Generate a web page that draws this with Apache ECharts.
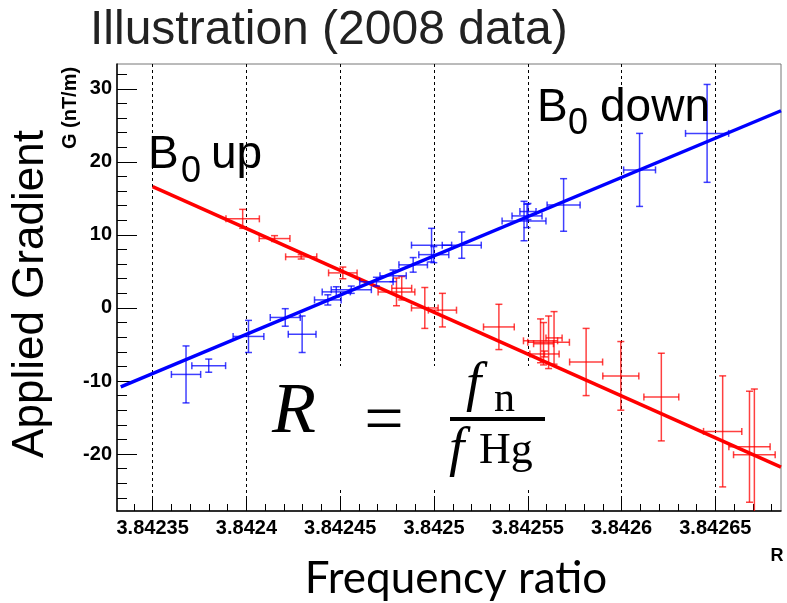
<!DOCTYPE html>
<html>
<head>
<meta charset="utf-8">
<script src="https://cdn.jsdelivr.net/npm/echarts@6/dist/echarts.min.js"></script>
<style>
	html, body { margin: 0; padding: 0; background: #fff; }
	#main { width: 787px; height: 603px; }
</style>
</head>
<body>
<div id="main"></div>
<script>
	// axis ranges
	var xMin = 3.842331, xMax = 3.842685;
	var yMin = -27.8, yMax = 33.4;

	var xMajor = [3.84235, 3.8424, 3.84245, 3.8425, 3.84255, 3.8426, 3.84265];
	var xTickLabels = ['3.84235', '3.8424', '3.84245', '3.8425', '3.84255', '3.8426', '3.84265'];
	var yMajor = [-20, -10, 0, 10, 20, 30];
	var yTickLabels = ['-20', '-10', '0', '10', '20', '30'];

	// B0 down (blue)
	var blueR = [3.8423678, 3.8423799, 3.8424011, 3.8424207, 3.8424297, 3.8424434, 3.8424479, 3.8424559, 3.8424693, 3.8424782,
		3.8424889, 3.8424987, 3.8424999, 3.8425148, 3.8425480, 3.8425496, 3.8425501, 3.8425691, 3.8426096, 3.8426456];
	var blueG = [-9.1, -7.9, -3.9, -1.3, -3.6, 1.1, 2.2, 2.5, 3.6, 4.4,
		5.9, 8.6, 7.3, 8.6, 11.9, 12.6, 13.2, 14.1, 18.9, 23.9];
	var blueRErr = [0.0000078, 0.0000090, 0.0000082, 0.0000080, 0.0000074, 0.0000071, 0.0000075, 0.0000107, 0.0000089, 0.0000070,
		0.0000076, 0.0000107, 0.0000080, 0.0000104, 0.0000117, 0.0000080, 0.0000043, 0.0000088, 0.0000085, 0.0000115];
	var blueGErr = [3.9, 0.9, 2.2, 1.2, 2.5, 0.7, 0.7, 0.5, 0.6, 0.8,
		1.0, 2.3, 1.1, 1.8, 2.7, 1.6, 1.1, 3.6, 5.0, 6.7];

	// B0 up (red)
	var redR = [3.8423980, 3.8424150, 3.8424292, 3.8424514, 3.8424800, 3.8424828, 3.8424951, 3.8425045, 3.8425346, 3.8425568,
		3.8425584, 3.8425611, 3.8425640, 3.8425589, 3.8425811, 3.8425996, 3.8426212, 3.8426539, 3.8426682, 3.8426708];
	var redG = [12.2, 9.5, 7.0, 4.8, 2.2, 2.7, 0.0, -0.3, -2.6, -4.5,
		-4.9, -4.7, -4.1, -6.3, -7.4, -9.3, -12.2, -16.9, -19.0, -20.1];
	var redRErr = [0.0000089, 0.0000082, 0.0000083, 0.0000076, 0.0000098, 0.0000053, 0.0000071, 0.0000075, 0.0000082, 0.0000091,
		0.0000053, 0.0000111, 0.0000043, 0.0000078, 0.0000088, 0.0000096, 0.0000093, 0.0000102, 0.0000110, 0.0000111];
	var redGErr = [1.3, 0.4, 0.3, 0.8, 1.9, 1.6, 2.8, 2.3, 3.1, 3.0,
		2.9, 3.6, 3.6, 0.4, 4.6, 4.7, 6.0, 7.6, 7.6, 9.0];

	// fitted lines (end points)
	var redFit = [[3.84235, 16.6], [3.842685, -21.8]];
	var blueFit = [[3.842333, -10.8], [3.842685, 27.0]];

	var xMinor = [];
	for (var i = 34; i <= 68; i++)
		xMinor.push(+(3.8420 + i * 0.00001).toFixed(5));
	var yMinor = [];
	for (var j = -26; j <= 32; j += 2)
		yMinor.push(j);

	function toItems(rs, gs, rErr, gErr) {
		var arr = [];
		for (var k = 0; k < rs.length; k++)
			arr.push([rs[k], gs[k], rErr[k], gErr[k]]);
		return arr;
	}

	function errorBars(color) {
		return function (params, api) {
			var x = api.value(0), y = api.value(1), ex = api.value(2), ey = api.value(3);
			var c = api.coord([x, y]);
			var l = api.coord([x - ex, y]);
			var r = api.coord([x + ex, y]);
			var topClip = y + ey > yMax, botClip = y - ey < yMin;
			var t = api.coord([x, Math.min(y + ey, yMax)]);
			var b = api.coord([x, Math.max(y - ey, yMin)]);
			var cap = 3.5;
			var style = { stroke: color, lineWidth: 1.5 };
			var seg = function (x1, y1, x2, y2) {
				return { type: 'line', shape: { x1: x1, y1: y1, x2: x2, y2: y2 }, style: style };
			};
			var children = [
				seg(l[0], c[1], r[0], c[1]),
				seg(l[0], c[1] - cap, l[0], c[1] + cap),
				seg(r[0], c[1] - cap, r[0], c[1] + cap),
				seg(c[0], t[1], c[0], b[1])
			];
			if (!topClip) children.push(seg(c[0] - cap, t[1], c[0] + cap, t[1]));
			if (!botClip) children.push(seg(c[0] - cap, b[1], c[0] + cap, b[1]));
			return { type: 'group', children: children };
		};
	}

	var labelFont = { fontFamily: 'Liberation Sans, Arial, sans-serif', fontWeight: 'bold', fontSize: 20, color: '#000' };

	var chart = echarts.init(document.getElementById('main'));
	chart.setOption({
		animation: false,
		backgroundColor: '#fff',
		grid: { left: 117, right: 6, top: 64, bottom: 92, show: true, borderColor: '#777', borderWidth: 1 },
		xAxis: [{
			type: 'value', min: xMin, max: xMax, position: 'bottom',
			axisLine: { onZero: false, lineStyle: { color: '#000', width: 1.5 } },
			axisTick: { inside: true, length: 14, customValues: xMajor, lineStyle: { color: '#000' } },
			axisLabel: Object.assign({
				customValues: xMajor, margin: 7,
				formatter: function (v) {
					for (var k = 0; k < xMajor.length; k++)
						if (Math.abs(xMajor[k] - v) < 1e-9) return xTickLabels[k];
					return '';
				}
			}, labelFont),
			splitLine: { show: true, lineStyle: { color: '#000', width: 1, type: [3, 3] } }
		}, {
			type: 'value', min: xMin, max: xMax, position: 'bottom',
			axisLine: { show: false, onZero: false },
			axisTick: { inside: true, length: 7, customValues: xMinor, lineStyle: { color: '#000' } },
			axisLabel: { show: false },
			splitLine: { show: false }
		}],
		yAxis: [{
			type: 'value', min: yMin, max: yMax, position: 'left',
			axisLine: { show: true, onZero: false, lineStyle: { color: '#000', width: 1.5 } },
			axisTick: { show: true, inside: true, length: 20, customValues: yMajor, lineStyle: { color: '#000' } },
			axisLabel: Object.assign({
				customValues: yMajor, margin: 5,
				formatter: function (v) {
					var k = yMajor.indexOf(v);
					return k >= 0 ? yTickLabels[k] : '';
				}
			}, labelFont),
			splitLine: { show: false }
		}, {
			type: 'value', min: yMin, max: yMax, position: 'left',
			axisLine: { show: false, onZero: false },
			axisTick: { show: true, inside: true, length: 10, customValues: yMinor, lineStyle: { color: '#000' } },
			axisLabel: { show: false },
			splitLine: { show: false }
		}],
		series: [{
			type: 'line', data: redFit, symbol: 'none', z: 2,
			lineStyle: { color: '#ff0000', width: 3.5 }
		}, {
			type: 'line', data: blueFit, symbol: 'none', z: 2,
			lineStyle: { color: '#0000ff', width: 3.5 }
		}, {
			type: 'custom', z: 3,
			data: toItems(redR, redG, redRErr, redGErr),
			encode: { x: 0, y: 1 },
			renderItem: errorBars('rgba(255,0,0,0.75)')
		}, {
			type: 'custom', z: 3,
			data: toItems(blueR, blueG, blueRErr, blueGErr),
			encode: { x: 0, y: 1 },
			renderItem: errorBars('rgba(0,0,255,0.75)')
		}],
		graphic: [
			// hides the dashed grid behind the formula
			{ type: 'rect', z: 1, shape: { x: 265, y: 366, width: 310, height: 122 }, style: { fill: '#fff' } },
			{ type: 'text', z: 10, x: 90, y: 31,
				style: { text: 'Illustration (2008 data)', font: '48px "Liberation Sans", Arial, sans-serif', fill: '#222', verticalAlign: 'middle' } },
			{ type: 'text', z: 10, x: 31, y: 294, rotation: Math.PI / 2,
				style: { text: 'Applied Gradient', font: '44px "Liberation Sans", Arial, sans-serif', fill: '#000', align: 'center', verticalAlign: 'middle' } },
			{ type: 'text', z: 10, x: 70, y: 108, rotation: Math.PI / 2,
				style: { text: 'G (nT/m)', font: 'bold 20px "Liberation Sans", Arial, sans-serif', fill: '#000', align: 'center', verticalAlign: 'middle' } },
			{ type: 'text', z: 10, x: 777, y: 556,
				style: { text: 'R', font: 'bold 18px "Liberation Sans", Arial, sans-serif', fill: '#000', align: 'center', verticalAlign: 'middle' } },
			{ type: 'text', z: 10, x: 456, y: 579,
				style: { text: 'Frequency ratio', font: '44px Lato, sans-serif', fill: '#000', align: 'center', verticalAlign: 'middle' } },
			// B0 labels
			{ type: 'text', z: 10, x: 148, y: 155,
				style: { text: 'B', font: '46px "Liberation Sans", Arial, sans-serif', fill: '#000', verticalAlign: 'middle' } },
			{ type: 'text', z: 10, x: 181, y: 172,
				style: { text: '0', font: '36px "Liberation Sans", Arial, sans-serif', fill: '#000', verticalAlign: 'middle' } },
			{ type: 'text', z: 10, x: 211, y: 155,
				style: { text: 'up', font: '46px "Liberation Sans", Arial, sans-serif', fill: '#000', verticalAlign: 'middle' } },
			{ type: 'text', z: 10, x: 537, y: 108,
				style: { text: 'B', font: '46px "Liberation Sans", Arial, sans-serif', fill: '#000', verticalAlign: 'middle' } },
			{ type: 'text', z: 10, x: 568, y: 124,
				style: { text: '0', font: '36px "Liberation Sans", Arial, sans-serif', fill: '#000', verticalAlign: 'middle' } },
			{ type: 'text', z: 10, x: 600, y: 108,
				style: { text: 'down', font: '46px "Liberation Sans", Arial, sans-serif', fill: '#000', verticalAlign: 'middle' } },
			// formula R = f_n / f_Hg
			{ type: 'text', z: 10, x: 272, y: 413,
				style: { text: 'R', font: 'italic 72px "Liberation Serif", serif', fill: '#000', verticalAlign: 'middle' } },
			{ type: 'text', z: 10, x: 384, y: 424,
				style: { text: '=', font: '70px "Liberation Serif", serif', fill: '#000', align: 'center', verticalAlign: 'middle' } },
			{ type: 'text', z: 10, x: 466, y: 386,
				style: { text: 'f', font: 'italic 55px "Liberation Serif", serif', fill: '#000', verticalAlign: 'middle' } },
			{ type: 'text', z: 10, x: 494, y: 400,
				style: { text: 'n', font: '42px "Liberation Serif", serif', fill: '#000', verticalAlign: 'middle' } },
			{ type: 'rect', z: 10, shape: { x: 450, y: 417, width: 95, height: 4 }, style: { fill: '#000' } },
			{ type: 'text', z: 10, x: 449, y: 451,
				style: { text: 'f', font: 'italic 55px "Liberation Serif", serif', fill: '#000', verticalAlign: 'middle' } },
			{ type: 'text', z: 10, x: 479, y: 451,
				style: { text: 'Hg', font: '44px "Liberation Serif", serif', fill: '#000', verticalAlign: 'middle' } }
		]
	});
</script>
</body>
</html>
